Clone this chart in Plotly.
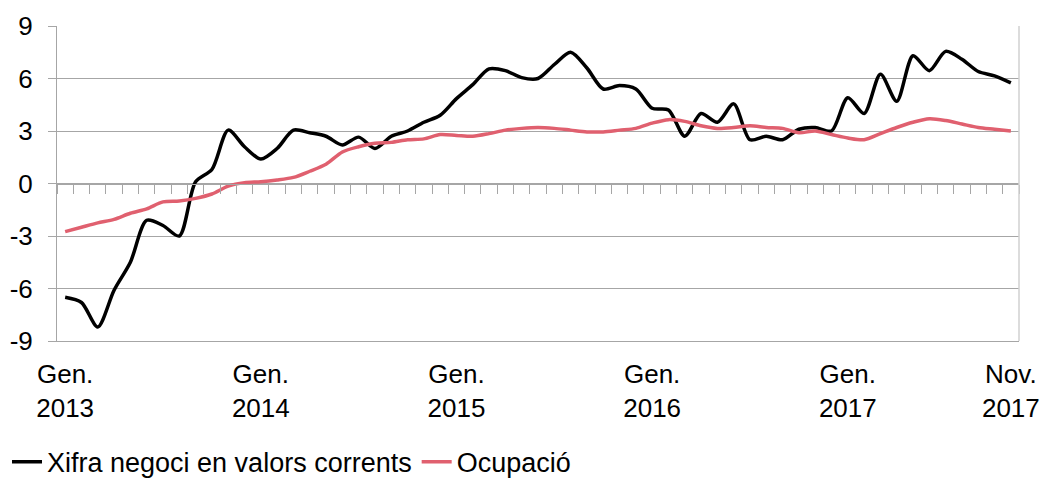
import plotly.graph_objects as go

# Monthly categories: Jan 2013 .. Nov 2017
month_abbr = ["Gen.", "Feb.", "Mar.", "Abr.", "Mai.", "Jun.", "Jul.", "Ago.", "Set.", "Oct.", "Nov.", "Des."]
months = []
for yr in range(2013, 2018):
    for m in month_abbr:
        months.append(f"{m} {yr}")
months = months[:59]

xifra = [
    -6.5, -6.8, -8.2, -6.1, -4.5, -2.1, -2.4, -3.0, 0.1, 0.8,
    3.05, 2.1, 1.4, 2.0, 3.05, 2.9, 2.7, 2.2, 2.65, 2.0,
    2.7, 3.0, 3.5, 3.9, 4.85, 5.65, 6.55, 6.45, 6.05, 6.0,
    6.8, 7.5, 6.6, 5.4, 5.6, 5.4, 4.3, 4.2, 2.7, 4.0,
    3.5, 4.55, 2.5, 2.7, 2.5, 3.1, 3.2, 3.0, 4.9, 4.0,
    6.25, 4.7, 7.3, 6.45, 7.55, 7.1, 6.4, 6.15, 5.75,
]

ocupacio = [
    -2.75, -2.5, -2.25, -2.05, -1.7, -1.45, -1.05, -1.0, -0.85, -0.6,
    -0.15, 0.05, 0.1, 0.2, 0.35, 0.7, 1.1, 1.8, 2.1, 2.3,
    2.35, 2.5, 2.55, 2.8, 2.75, 2.7, 2.85, 3.05, 3.15, 3.2,
    3.15, 3.05, 2.95, 2.95, 3.05, 3.15, 3.45, 3.65, 3.55, 3.3,
    3.15, 3.2, 3.3, 3.2, 3.15, 2.9, 3.0, 2.8, 2.6, 2.5,
    2.85, 3.2, 3.5, 3.7, 3.6, 3.4, 3.2, 3.1, 3.0,
]

x_tick_cats = [months[0], months[12], months[24], months[36], months[48], months[58]]
x_tick_text = ["Gen.<br>2013", "Gen.<br>2014", "Gen.<br>2015", "Gen.<br>2016", "Gen.<br>2017", "Nov.<br>2017"]
y_tick_vals = [-9, -6, -3, 0, 3, 6, 9]
y_tick_text = ["-9", "-6", "-3", "0", "3", "6", "9"]

FONT = "Liberation Sans, Arial, sans-serif"
GRID = "#A6A6A6"
FS = 26

fig = go.Figure()
fig.add_trace(go.Scatter(
    x=months, y=xifra, mode="lines", name="Xifra negoci en valors corrents",
    line=dict(color="#000000", width=3.5, shape="spline", smoothing=0.8),
))
fig.add_trace(go.Scatter(
    x=months, y=ocupacio, mode="lines", name="Ocupació",
    line=dict(color="#E0606F", width=3.5, shape="spline", smoothing=0.8),
))
# invisible helper trace so the category-boundary tick axis (x2) gets drawn
fig.add_trace(go.Scatter(
    x=[0], y=[None], xaxis="x2", mode="markers", marker=dict(opacity=0),
    showlegend=False, hoverinfo="skip",
))

n = len(months)
fig.update_layout(
    template="none",
    width=1043, height=481,
    margin=dict(l=57, r=24, t=26, b=140, pad=0, autoexpand=False),
    plot_bgcolor="white", paper_bgcolor="white",
    font=dict(family=FONT, size=FS, color="#000000"),
    showlegend=True,
    xaxis=dict(
        type="category", categoryorder="array", categoryarray=months,
        range=[-0.5, n - 0.5], automargin=False,
        tickmode="array", tickvals=x_tick_cats, ticktext=x_tick_text,
        ticks="", showgrid=False, zeroline=False,
        showline=True, linecolor=GRID, linewidth=1,
        tickfont=dict(size=FS, color="#000000"),
        ticklabelstandoff=10,
    ),
    xaxis2=dict(
        overlaying="x", anchor="free", position=0.5, automargin=False,
        range=[-0.5, n - 0.5],
        tickmode="array", tickvals=[k - 0.5 for k in range(n + 1)],
        ticks="outside", ticklen=9, tickcolor=GRID, tickwidth=1,
        showticklabels=False, showgrid=False, zeroline=False,
        showline=True, linecolor=GRID, linewidth=1,
    ),
    yaxis=dict(
        range=[-9, 9], tickmode="array", tickvals=y_tick_vals, ticktext=y_tick_text,
        automargin=False,
        showgrid=True, gridcolor=GRID, gridwidth=1, zeroline=False,
        showline=True, linecolor=GRID, linewidth=1,
        ticks="outside", ticklen=8, tickcolor=GRID, tickwidth=1,
        tickfont=dict(size=FS, color="#000000"),
        ticklabelstandoff=10,
    ),
    legend=dict(
        orientation="h", x=(7 - 57) / 962, y=-0.385, xanchor="left", yanchor="middle",
        font=dict(size=27, color="#000000"), bgcolor="rgba(0,0,0,0)",
        itemwidth=30, borderwidth=0,
    ),
    shapes=[dict(type="line", xref="paper", yref="paper", x0=1, x1=1, y0=0, y1=1,
                 line=dict(color="#D0D0D0", width=1.5))],
)

# remove the default 8px page margin so the figure fills the window exactly
fig.write_html(
    "out.html",
    config={"displayModeBar": False},
    post_script="document.body.style.margin='0';document.body.style.overflow='hidden';",
)
